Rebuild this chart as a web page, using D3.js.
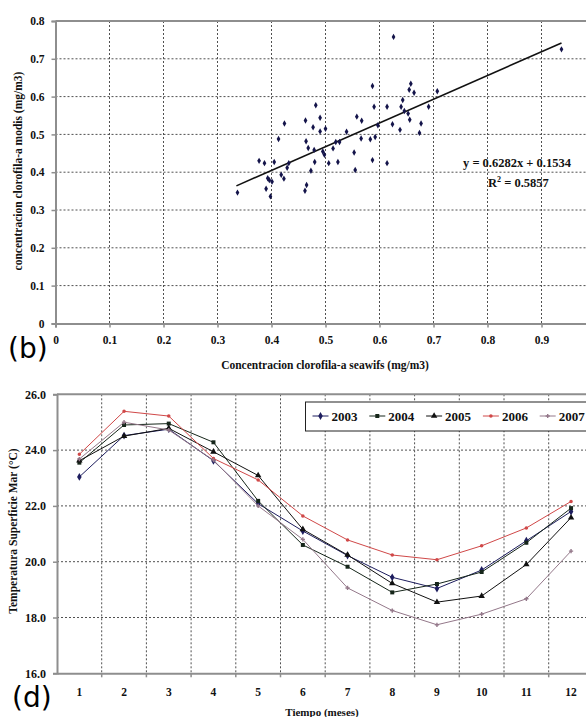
<!DOCTYPE html>
<html>
<head>
<meta charset="utf-8">
<script src="https://cdn.jsdelivr.net/npm/d3@7"></script>
<style>
  body { margin: 0; background: #fff; }
  svg { display: block; }
  text { font-family: "Liberation Serif", "DejaVu Serif", serif; font-weight: bold; fill: #111; }
  .panel-tag { font-family: "DejaVu Sans", "Noto Sans", sans-serif; font-weight: normal; fill: #000; }
</style>
</head>
<body>
<svg id="fig" width="586" height="717"></svg>
<script>
// ---- Panel (b): chlorophyll-a, SeaWiFS vs MODIS ----
const seawifs = [
  0.337, 0.377, 0.387, 0.405, 0.424, 0.413, 0.432, 0.429, 0.418, 0.423,
  0.393, 0.396, 0.401, 0.390, 0.398, 0.482, 0.463, 0.490, 0.477, 0.490,
  0.500, 0.464, 0.468, 0.479, 0.495, 0.498, 0.480, 0.473, 0.506, 0.514,
  0.519, 0.526, 0.523, 0.465, 0.462, 0.539, 0.558, 0.567, 0.553, 0.555,
  0.566, 0.583, 0.592, 0.587, 0.587, 0.590, 0.597, 0.614, 0.614, 0.624,
  0.638, 0.640, 0.643, 0.646, 0.653, 0.656, 0.655, 0.658, 0.664, 0.677,
  0.674, 0.691, 0.707, 0.626, 0.937
];
const modis = [
  0.346, 0.430, 0.424, 0.427, 0.529, 0.488, 0.424, 0.412, 0.393, 0.383,
  0.384, 0.379, 0.375, 0.356, 0.336, 0.577, 0.537, 0.544, 0.519, 0.508,
  0.515, 0.482, 0.464, 0.459, 0.455, 0.446, 0.427, 0.404, 0.424, 0.463,
  0.480, 0.480, 0.427, 0.366, 0.351, 0.507, 0.547, 0.536, 0.452, 0.406,
  0.489, 0.487, 0.493, 0.432, 0.628, 0.573, 0.524, 0.573, 0.424, 0.527,
  0.512, 0.573, 0.591, 0.562, 0.555, 0.539, 0.618, 0.634, 0.610, 0.529,
  0.504, 0.573, 0.614, 0.758, 0.725
];
const fitSlope = 0.6282;
const fitIntercept = 0.1534;
const fitR2 = 0.5857;
const fitDomain = [0.335, 0.937];
const chlTicksX = [0, 0.1, 0.2, 0.3, 0.4, 0.5, 0.6, 0.7, 0.8, 0.9];
const chlTicksY = [0, 0.1, 0.2, 0.3, 0.4, 0.5, 0.6, 0.7, 0.8];

// ---- Panel (d): monthly sea-surface temperature ----
const months = [1, 2, 3, 4, 5, 6, 7, 8, 9, 10, 11, 12];
const years = ["2003", "2004", "2005", "2006", "2007"];
const sst2003 = [23.04, 24.52, 24.75, 23.62, 22.08, 21.10, 20.22, 19.44, 19.04, 19.70, 20.75, 21.80];
const sst2004 = [23.55, 24.90, 24.95, 24.28, 22.18, 20.60, 19.82, 18.90, 19.20, 19.63, 20.68, 21.92];
const sst2005 = [23.62, 24.50, 24.78, 23.94, 23.09, 21.16, 20.24, 19.22, 18.55, 18.77, 19.90, 21.58];
const sst2006 = [23.85, 25.39, 25.22, 23.70, 22.93, 21.64, 20.78, 20.24, 20.07, 20.57, 21.21, 22.16];
const sst2007 = [23.68, 25.00, 24.72, 23.64, 22.00, 20.80, 19.06, 18.25, 17.74, 18.12, 18.67, 20.38];
const sstTicks = [16, 18, 20, 22, 24, 26];

const svg = d3.select("#fig");
const axisGrey = "#8e8e8e";
const gridColor = "#505050";

function styleGrid(sel) {
  sel.attr("stroke", gridColor).attr("stroke-width", 1).attr("stroke-dasharray", "2,2");
}

// ================= Panel (b) =================
const xC = d3.scaleLinear().domain([0, 1]).range([55.5, 595.5]);
const yC = d3.scaleLinear().domain([0, 0.8]).range([323.4, 21]);
const gB = svg.append("g");

// grid
gB.selectAll("line.vg").data(chlTicksX.filter(d => d > 0)).join("line")
  .attr("x1", d => xC(d)).attr("x2", d => xC(d))
  .attr("y1", yC(0.8)).attr("y2", yC(0))
  .call(styleGrid);
gB.selectAll("line.hg").data(chlTicksY.filter(d => d > 0 && d < 0.8)).join("line")
  .attr("x1", xC(0)).attr("x2", xC(1))
  .attr("y1", d => yC(d)).attr("y2", d => yC(d))
  .call(styleGrid);

// frame: top border and axes
gB.append("line").attr("x1", xC(0)).attr("x2", xC(1)).attr("y1", yC(0.8)).attr("y2", yC(0.8))
  .attr("stroke", axisGrey).attr("stroke-width", 2);

const axBx = gB.append("g").attr("transform", `translate(0,${yC(0)})`)
  .call(d3.axisBottom(xC).tickValues(chlTicksX).tickSize(4).tickPadding(8)
    .tickFormat(d => d === 0 ? "0" : d3.format(".1f")(d)));
const axBy = gB.append("g").attr("transform", `translate(${xC(0)},0)`)
  .call(d3.axisLeft(yC).tickValues(chlTicksY).tickSize(4).tickPadding(7)
    .tickFormat(d => d === 0 ? "0" : d3.format(".1f")(d)));
[axBx, axBy].forEach(a => {
  a.attr("font-family", null);
  a.select(".domain").attr("stroke", axisGrey).attr("stroke-width", 2);
  a.selectAll(".tick line").attr("stroke", axisGrey).attr("stroke-width", 1.5);
  a.selectAll(".tick text").attr("font-size", 11.5).attr("fill", "#111");
});

// regression line
const fitLine = d3.line().x(d => xC(d)).y(d => yC(fitSlope * d + fitIntercept));
gB.append("path").datum(fitDomain).attr("d", fitLine)
  .attr("fill", "none").attr("stroke", "#111").attr("stroke-width", 1.6);

// points
const diamond = d3.symbol().type(d3.symbolDiamond).size(12);
gB.selectAll("path.pt").data(seawifs.map((v, i) => [v, modis[i]])).join("path")
  .attr("class", "pt")
  .attr("d", diamond)
  .attr("transform", d => `translate(${xC(d[0])},${yC(d[1])})`)
  .attr("fill", "#14144a");

// equation
gB.append("text").attr("x", 463).attr("y", 167).attr("font-size", 12.5)
  .text(`y = ${fitSlope}x + ${fitIntercept}`);
const r2 = gB.append("text").attr("x", 488).attr("y", 187).attr("font-size", 12.5);
r2.append("tspan").text("R");
r2.append("tspan").attr("font-size", 8).attr("dy", -5).text("2");
r2.append("tspan").attr("dy", 5).text(` = ${fitR2}`);

// titles
gB.append("text").attr("x", 325).attr("y", 369).attr("text-anchor", "middle").attr("font-size", 11.5)
  .text("Concentracion clorofila-a seawifs (mg/m3)");
gB.append("text").attr("transform", "translate(18,171) rotate(-90)").attr("text-anchor", "middle")
  .attr("dy", "0.35em").attr("font-size", 11.5)
  .text("concentracion clorofila-a modis (mg/m3)");
gB.append("text").attr("class", "panel-tag").attr("x", 8).attr("y", 358).attr("font-size", 28).text("(b)");

// ================= Panel (d) =================
const xM = d3.scaleBand().domain(months).range([57, 593.4]);
const yT = d3.scaleLinear().domain([16, 26]).range([673.3, 394.3]);
const gD = svg.append("g");
const bounds = months.slice(1).map(m => xM(m)).concat([xM.range()[1]]);

gD.selectAll("line.vg").data(bounds).join("line")
  .attr("x1", d => d).attr("x2", d => d)
  .attr("y1", yT(26)).attr("y2", yT(16))
  .call(styleGrid);
gD.selectAll("line.hg").data(sstTicks.filter(d => d > 16 && d < 26)).join("line")
  .attr("x1", xM.range()[0]).attr("x2", xM.range()[1])
  .attr("y1", d => yT(d)).attr("y2", d => yT(d))
  .call(styleGrid);

gD.append("line").attr("x1", xM.range()[0]).attr("x2", xM.range()[1])
  .attr("y1", yT(26)).attr("y2", yT(26))
  .attr("stroke", axisGrey).attr("stroke-width", 2);

const axDx = gD.append("g").attr("transform", `translate(0,${yT(16)})`)
  .call(d3.axisBottom(xM).tickSize(0).tickPadding(15));
gD.append("g").selectAll("line").data(bounds).join("line")
  .attr("x1", d => d).attr("x2", d => d)
  .attr("y1", yT(16)).attr("y2", yT(16) + 4)
  .attr("stroke", axisGrey).attr("stroke-width", 1.5);
const axDy = gD.append("g").attr("transform", `translate(${xM.range()[0]},0)`)
  .call(d3.axisLeft(yT).tickValues(sstTicks).tickSize(4).tickPadding(7).tickFormat(d3.format(".1f")));
[axDx, axDy].forEach(a => {
  a.attr("font-family", null);
  a.select(".domain").attr("stroke", axisGrey).attr("stroke-width", 2);
  a.selectAll(".tick line").attr("stroke", axisGrey).attr("stroke-width", 1.5);
  a.selectAll(".tick text").attr("font-size", 11.5).attr("fill", "#111");
});
axDy.selectAll(".tick text").attr("font-size", 12);

const seriesVals = [sst2003, sst2004, sst2005, sst2006, sst2007];
const seriesColor = ["#1d1d5e", "#16261a", "#111111", "#d04848", "#94788a"];
const seriesSymbol = [d3.symbolDiamond, d3.symbolSquare, d3.symbolTriangle, d3.symbolCircle, d3.symbolCross];
const seriesSize = [18, 16, 18, 10, 10];

const cx = m => xM(m) + xM.bandwidth() / 2;
const sstLine = d3.line().x(d => cx(d.m)).y(d => yT(d.v));

years.forEach((yr, i) => {
  const pts = months.map((m, j) => ({ m, v: seriesVals[i][j] }));
  const g = gD.append("g");
  g.append("path").datum(pts).attr("d", sstLine)
    .attr("fill", "none").attr("stroke", seriesColor[i]).attr("stroke-width", 1);
  g.selectAll("path.mk").data(pts).join("path").attr("class", "mk")
    .attr("d", d3.symbol().type(seriesSymbol[i]).size(seriesSize[i]))
    .attr("transform", d => `translate(${cx(d.m)},${yT(d.v)})`)
    .attr("fill", seriesColor[i]);
});

// legend
const lg = gD.append("g");
lg.append("rect").attr("x", 305.5).attr("y", 402).attr("width", 300).attr("height", 29)
  .attr("fill", "#fff").attr("stroke", "#222").attr("stroke-width", 1);
years.forEach((yr, i) => {
  const tx = 331.5 + i * 56.8;
  lg.append("line").attr("x1", tx - 19).attr("x2", tx - 3).attr("y1", 416).attr("y2", 416)
    .attr("stroke", seriesColor[i]).attr("stroke-width", 1);
  lg.append("path").attr("d", d3.symbol().type(seriesSymbol[i]).size(seriesSize[i])())
    .attr("transform", `translate(${tx - 11},416)`).attr("fill", seriesColor[i]);
  lg.append("text").attr("x", tx).attr("y", 420.5).attr("font-size", 13).text(yr);
});

// titles
gD.append("text").attr("x", 322).attr("y", 716).attr("text-anchor", "middle").attr("font-size", 11)
  .text("Tiempo (meses)");
gD.append("text").attr("transform", "translate(13,531) rotate(-90)").attr("text-anchor", "middle")
  .attr("dy", "0.35em").attr("font-size", 11.5)
  .text("Temperatura Superficie Mar (°C)");
gD.append("text").attr("class", "panel-tag").attr("x", 12).attr("y", 707).attr("font-size", 28).text("(d)");
</script>
</body>
</html>
